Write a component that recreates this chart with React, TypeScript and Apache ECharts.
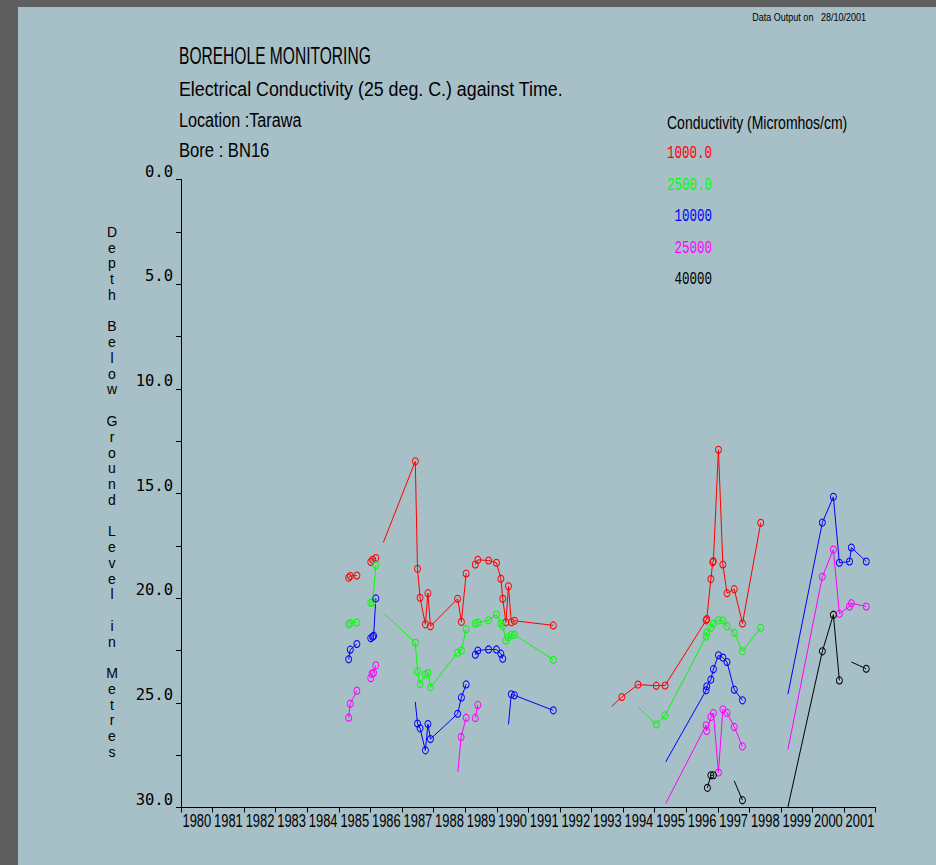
import React, { useEffect, useRef } from "react";
import * as echarts from "echarts";

// [year, depth (m), marker: 1 = sampled point, 0 = line end without marker]
type P = [number, number, number];

const X_MIN = 1980;
const X_MAX = 2002;
const Y_MIN = 0;
const Y_MAX = 30;
const Y_TICK = 2.5;

const xTickLabels = [
  "1980", "1981", "1982", "1983", "1984", "1985", "1986", "1987", "1988", "1989", "1990",
  "1991", "1992", "1993", "1994", "1995", "1996", "1997", "1998", "1999", "2000", "2001",
];

const legendTitle = "Conductivity (Micromhos/cm)";
const legendLabels = ["1000.0", "2500.0", "10000", "25000", "40000"];
const seriesColors = ["#ff0000", "#00ff00", "#0000ff", "#ff00ff", "#000000"];

const red1000: P[][] = [
  [[1985.31, 19.03, 1], [1985.36, 18.94, 1], [1985.57, 18.92, 1]],
  [[1986.01, 18.27, 1], [1986.07, 18.17, 1], [1986.17, 18.08, 1]],
  [[1986.41, 17.33, 0], [1987.42, 13.46, 1], [1987.49, 18.6, 1], [1987.57, 19.98, 1], [1987.74, 21.25, 1], [1987.82, 19.76, 1], [1987.9, 21.34, 1], [1988.76, 20.03, 1], [1988.88, 21.13, 1], [1989.03, 18.82, 1]],
  [[1989.32, 18.39, 1], [1989.4, 18.17, 1], [1989.74, 18.2, 1], [1989.99, 18.31, 1], [1990.13, 19.07, 1], [1990.19, 20.03, 1], [1990.29, 21.15, 1], [1990.37, 19.43, 1], [1990.46, 21.15, 1], [1990.56, 21.08, 1], [1991.79, 21.3, 1]],
  [[1993.64, 25.17, 0], [1993.96, 24.72, 1], [1994.47, 24.13, 1], [1995.05, 24.18, 1], [1995.33, 24.17, 1], [1996.63, 21.06, 1], [1996.65, 21.0, 1], [1996.78, 19.09, 1], [1996.84, 18.28, 1], [1996.86, 18.23, 1], [1997.02, 12.91, 1], [1997.16, 18.39, 1], [1997.29, 19.76, 1], [1997.52, 19.57, 1], [1997.78, 21.21, 1], [1998.36, 16.4, 1]],
];

const green2500: P[][] = [
  [[1985.31, 21.25, 1], [1985.36, 21.19, 1], [1985.57, 21.16, 1]],
  [[1986.01, 20.22, 1], [1986.07, 20.19, 1], [1986.17, 18.43, 1]],
  [[1986.41, 20.7, 0], [1987.42, 22.13, 1], [1987.49, 23.5, 1], [1987.57, 24.1, 1], [1987.74, 23.65, 1], [1987.82, 23.58, 1], [1987.9, 24.26, 1], [1988.76, 22.6, 1], [1988.88, 22.5, 1], [1989.03, 21.48, 1]],
  [[1989.32, 21.21, 1], [1989.4, 21.16, 1], [1989.74, 21.06, 1], [1989.99, 20.78, 1], [1990.13, 21.21, 1], [1990.19, 21.34, 1], [1990.29, 22.02, 1], [1990.37, 21.87, 1], [1990.46, 21.75, 1], [1990.56, 21.75, 1], [1991.79, 22.94, 1]],
  [[1994.49, 25.23, 0], [1995.05, 26.03, 1], [1995.33, 25.6, 1], [1996.63, 21.83, 1], [1996.65, 21.65, 1], [1996.78, 21.41, 1], [1996.86, 21.22, 1], [1997.02, 21.06, 1], [1997.16, 21.06, 1], [1997.29, 21.35, 1], [1997.52, 21.65, 1], [1997.78, 22.54, 1], [1998.36, 21.41, 1]],
];

const blue10000: P[][] = [
  [[1985.31, 22.92, 1], [1985.36, 22.46, 1], [1985.57, 22.19, 1]],
  [[1986.01, 21.91, 1], [1986.07, 21.84, 1], [1986.1, 21.79, 1], [1986.17, 20.01, 1]],
  [[1987.42, 24.96, 0], [1987.49, 25.99, 1], [1987.57, 26.22, 1], [1987.74, 27.27, 1], [1987.82, 26.01, 1], [1987.9, 26.73, 1], [1988.76, 25.52, 1], [1988.88, 24.74, 1], [1989.03, 24.12, 1]],
  [[1989.32, 22.7, 1], [1989.4, 22.5, 1], [1989.74, 22.45, 1], [1989.99, 22.45, 1], [1990.13, 22.65, 1], [1990.19, 22.89, 1]],
  [[1990.37, 26.03, 0], [1990.46, 24.59, 1], [1990.56, 24.64, 1], [1991.79, 25.36, 1]],
  [[1995.35, 27.82, 0], [1996.63, 24.4, 1], [1996.65, 24.21, 1], [1996.78, 23.89, 1], [1996.86, 23.39, 1], [1997.02, 22.73, 1], [1997.16, 22.84, 1], [1997.29, 23.05, 1], [1997.52, 24.37, 1], [1997.78, 24.88, 1]],
  [[1999.22, 24.59, 0], [2000.31, 16.39, 1], [2000.66, 15.16, 1], [2000.85, 18.31, 1], [2001.17, 18.25, 1], [2001.23, 17.58, 1], [2001.7, 18.25, 1]],
];

const magenta25000: P[][] = [
  [[1985.31, 25.71, 1], [1985.36, 25.04, 1], [1985.57, 24.42, 1]],
  [[1986.01, 23.82, 1], [1986.05, 23.61, 1], [1986.1, 23.56, 1], [1986.17, 23.21, 1]],
  [[1988.77, 28.3, 0], [1988.87, 26.63, 1], [1989.03, 25.71, 1]],
  [[1989.32, 25.72, 1], [1989.4, 25.1, 1]],
  [[1995.35, 29.81, 0], [1996.63, 26.07, 1], [1996.65, 26.34, 1], [1996.78, 25.68, 1], [1996.86, 25.49, 1], [1997.02, 28.33, 1], [1997.16, 25.31, 1], [1997.29, 25.47, 1], [1997.52, 26.15, 1], [1997.78, 27.08, 1]],
  [[1999.22, 27.23, 0], [2000.31, 18.98, 1], [2000.66, 17.68, 1], [2000.85, 20.74, 1], [2001.17, 20.4, 1], [2001.23, 20.24, 1], [2001.7, 20.4, 1]],
];

const black40000: P[][] = [
  [[1996.67, 29.06, 1], [1996.78, 28.46, 1], [1996.86, 28.46, 1]],
  [[1997.52, 28.73, 0], [1997.78, 29.65, 1]],
  [[1999.22, 29.98, 0], [2000.31, 22.54, 1], [2000.66, 20.79, 1], [2000.85, 23.93, 1]],
  [[2001.23, 23.05, 0], [2001.7, 23.37, 1]],
];

const groups: P[][][] = [red1000, green2500, blue10000, magenta25000, black40000];

const titleLines = [
  "BOREHOLE MONITORING",
  "Electrical Conductivity (25 deg. C.) against Time.",
  "Location :Tarawa",
  "Bore : BN16",
];
const outputNote = "Data Output on   28/10/2001";
const yAxisTitle = "Depth Below Ground Level in Metres";

const BG = "#a7bfc7";
const FRAME = "#5f5f5f";
const SANS = '"Liberation Sans", Arial, sans-serif';
const MONO = '"DejaVu Sans Mono", "Liberation Mono", monospace';
const LMONO = '"Liberation Mono", "DejaVu Sans Mono", monospace';

function txt(text: string, x: number, y: number, size: number, sx: number, fill = "#000", align = "left", family = SANS) {
  return {
    type: "text",
    x,
    y,
    scaleX: sx,
    silent: true,
    style: {
      text,
      font: `${size}px ${family}`,
      fill,
      align,
      textAlign: align,
      verticalAlign: "middle",
      textVerticalAlign: "middle",
    },
  };
}

export default function App() {
  const ref = useRef<HTMLDivElement>(null);

  useEffect(() => {
    if (!ref.current) return;
    const chart = echarts.init(ref.current, undefined, { renderer: "svg" });

    const series: any[] = [];
    groups.forEach((segs, gi) => {
      const color = seriesColors[gi];
      segs.forEach((seg) => {
        series.push({
          type: "line",
          data: seg.map(([x, y, m]) => (m ? [x, y] : { value: [x, y], symbol: "none" })),
          symbol: "circle",
          symbolSize: [6, 7],
          showAllSymbol: true,
          itemStyle: { color: "rgba(0,0,0,0)", borderColor: color, borderWidth: 1 },
          lineStyle: { color, width: 1 },
          silent: true,
          z: 3,
        });
      });
    });

    const graphic: any[] = [
      txt(titleLines[0], 161, 48.5, 23.6, 0.66),
      txt(titleLines[1], 161, 82.5, 20, 0.89),
      txt(titleLines[2], 161, 113.5, 20, 0.81),
      txt(titleLines[3], 161, 143, 20, 0.83),
      txt(outputNote, 848, 10.5, 11, 0.82, "#000", "right"),
      txt(legendTitle, 649, 116, 17.5, 0.8),
      ...legendLabels.map((l, i) => txt(l, 694, 146.3 + i * 31.6, 19, 0.66, seriesColors[i], "right", LMONO)),
      {
        type: "text",
        x: 94,
        y: 217,
        silent: true,
        style: {
          text: yAxisTitle.split("").join("\n"),
          font: `14px ${SANS}`,
          lineHeight: 15.76,
          fill: "#000",
          align: "center",
          textAlign: "center",
          verticalAlign: "top",
          textVerticalAlign: "top",
        },
      },
    ];

    chart.setOption({
      animation: false,
      backgroundColor: BG,
      grid: { left: 163, top: 172.5, right: 60.3, bottom: 57.5, containLabel: false },
      xAxis: {
        type: "value",
        min: X_MIN,
        max: X_MAX,
        interval: 1,
        axisLine: { show: true, onZero: false, lineStyle: { color: "#000", width: 1 } },
        axisTick: { show: true, inside: false, length: 5, lineStyle: { color: "#000" } },
        splitLine: { show: false },
        axisLabel: { show: false },
      },
      yAxis: {
        type: "value",
        inverse: true,
        min: Y_MIN,
        max: Y_MAX,
        interval: Y_TICK,
        axisLine: { show: true, onZero: false, lineStyle: { color: "#000", width: 1 } },
        axisTick: { show: true, inside: false, length: 5, lineStyle: { color: "#000" } },
        splitLine: { show: false },
        axisLabel: {
          formatter: (v: number) => (v % 5 === 0 ? v.toFixed(1) : ""),
          verticalAlign: "bottom",
          lineHeight: 16,
          margin: 8,
          fontFamily: MONO,
          fontSize: 15.5,
          color: "#000",
          showMinLabel: true,
          showMaxLabel: true,
        },
      },
      graphic,
      series,
    });

    // Year labels placed through the x axis scale (narrow, tall lettering like the original plotter font)
    const axisY = chart.convertToPixel({ yAxisIndex: 0 }, Y_MAX) as number;
    const yearLabels = xTickLabels.map((lab) => {
      const px = chart.convertToPixel({ xAxisIndex: 0 }, Number(lab)) as number;
      return txt(lab, px + 1.5, axisY + 12, 19, 0.68);
    });
    chart.setOption({ graphic: [...graphic, ...yearLabels] });

    return () => chart.dispose();
  }, []);

  return (
    <div style={{ position: "fixed", left: 0, top: 0, width: 936, height: 865, background: FRAME }}>
      <div ref={ref} style={{ position: "absolute", left: 18, top: 7, width: 918, height: 858 }} />
    </div>
  );
}
